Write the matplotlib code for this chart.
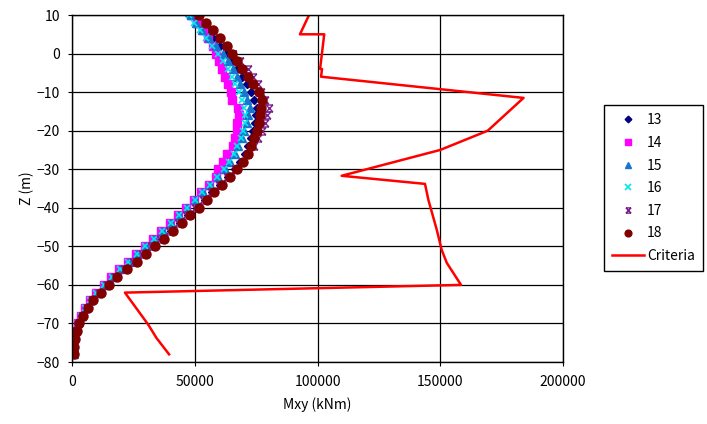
import matplotlib
matplotlib.use("Agg")
import matplotlib.pyplot as plt
from matplotlib.path import Path
from matplotlib.ticker import MultipleLocator

plt.rcParams["font.family"] = ["Noto Sans CJK JP", "DejaVu Sans"]
plt.rcParams["font.size"] = 10

# depth of each output point (m)
z = [10, 8, 6, 4, 2, 0, -2, -4, -6, -8, -10, -12, -14, -16, -18, -20, -22,
     -24, -26, -28, -30, -32, -34, -36, -38, -40, -42, -44, -46, -48, -50,
     -52, -54, -56, -58, -60, -62, -64, -66, -68, -70, -72, -74, -76, -78]

# Mxy per case, in kNm
m13 = [47600, 51500, 54500, 57500, 60300, 62800, 65000, 67200, 69300, 71200,
       73000, 74200, 75200, 75000, 74600, 73800, 72900, 71800, 70300, 68500,
       66300, 63300, 60000, 57000, 53900, 50600, 47200, 43800, 40300, 36700,
       33000, 29300, 25500, 21600, 17900, 14600, 11200, 8200, 6100, 4200,
       2600, 1500, 900, 500, 500]
m14 = [48300, 51000, 53200, 55300, 57300, 58600, 59800, 61100, 62300, 63600,
       64500, 65000, 67700, 68100, 67300, 67000, 66300, 65600, 62900, 61600,
       59500, 58500, 55500, 52500, 49400, 46200, 43000, 39700, 36300, 32900,
       29400, 26100, 22600, 19100, 15800, 12700, 9700, 7200, 5200, 3600,
       2200, 1300, 700, 400, 400]
m15 = [48500, 50500, 53000, 55800, 58600, 61600, 63500, 65300, 67000, 68500,
       69800, 71200, 72400, 71800, 71100, 70100, 69100, 67700, 66300, 64300,
       62300, 59300, 56200, 53200, 50000, 46800, 43500, 40200, 36800, 33300,
       29800, 26500, 23000, 19500, 16200, 13000, 10000, 7500, 5500, 3800,
       2400, 1400, 800, 500, 500]
m16 = [47500, 49500, 52000, 54500, 57000, 59500, 61500, 63300, 65000, 66500,
       67800, 69000, 69800, 70300, 70200, 69600, 68600, 67300, 65800, 63900,
       61900, 59000, 56000, 53000, 49800, 46600, 43300, 40000, 36600, 33100,
       29600, 26300, 22800, 19300, 16000, 12800, 9800, 7300, 5300, 3600,
       2300, 1300, 700, 400, 400]
m17 = [51000, 53800, 56800, 59800, 62800, 65500, 68500, 71500, 73800, 75500,
       77000, 78500, 80000, 79400, 78600, 77500, 75800, 74000, 71800, 69300,
       66500, 63200, 59800, 56600, 53400, 50000, 46500, 43000, 39500, 35900,
       32200, 28500, 24800, 20900, 17200, 14000, 10700, 7900, 5900, 4000,
       2500, 1500, 900, 500, 500]
m18 = [51600, 54400, 57200, 60200, 62900, 65200, 67300, 69300, 71400, 73600,
       76100, 77200, 76800, 76500, 76000, 75200, 74200, 73000, 71500, 69500,
       67300, 64200, 60900, 57900, 54800, 51600, 48000, 44600, 41100, 37500,
       33800, 30000, 26200, 22100, 18300, 15000, 11500, 8500, 6400, 4400,
       2800, 1700, 1000, 600, 600]

# criteria envelope
crit_x = [96500, 92800, 102700, 101000, 101800, 101400, 184000, 169400,
          150000, 109800, 143800, 145200, 148600, 150600, 152700, 158500,
          21400, 30900, 34300, 39400]
crit_z = [10, 5, 5, -4, -4, -6, -11.5, -20, -25, -31.7, -33.8, -38, -45.7,
          -50.9, -54.3, -60, -62, -70.3, -73.8, -78]

# Excel-style star marker: an x with bars on top and bottom
star = Path([(-1, -1), (1, 1), (-1, 1), (1, -1), (-1, 1), (1, 1), (-1, -1), (1, -1)],
            [Path.MOVETO, Path.LINETO, Path.MOVETO, Path.LINETO,
             Path.MOVETO, Path.LINETO, Path.MOVETO, Path.LINETO])

fig = plt.figure(figsize=(7.07, 4.24), dpi=100)
ax = fig.add_axes([0.1025, 0.1462, 0.6935, 0.8184])

ax.plot(m13, z, ls="none", marker="D", ms=4.5, color="#000080", label="13")
ax.plot(m14, z, ls="none", marker="s", ms=5.5, color="#FF00FF", label="14")
ax.plot(m15, z, ls="none", marker="^", ms=6, color="#1874CD", label="15")
ax.plot(m16, z, ls="none", marker="x", ms=5, mew=1.2, color="#00E5EE", label="16")
ax.plot(m17, z, ls="none", marker=star, ms=5, mew=1.0, color="#7B1F8C", label="17")
ax.plot(m18, z, ls="none", marker="o", ms=6.5, color="#800000", label="18")
ax.plot(crit_x, crit_z, color="#FF0000", lw=1.8, label="Criteria")

ax.set_xlim(0, 200000)
ax.set_ylim(-80, 10)
ax.xaxis.set_major_locator(MultipleLocator(50000))
ax.yaxis.set_major_locator(MultipleLocator(10))
ax.grid(True, color="black", lw=0.9)
ax.set_axisbelow(True)
for s in ax.spines.values():
    s.set_color("black")
    s.set_linewidth(1.0)
ax.tick_params(direction="out", length=3, color="black", labelsize=10, pad=6)
ax.set_xlabel("Mxy (kNm)", labelpad=6)
ax.set_ylabel("Z (m)", labelpad=2)

leg = fig.legend(loc="upper left", bbox_to_anchor=(604 / 707, 1 - 105 / 424),
                 borderaxespad=0, frameon=True, fancybox=False,
                 edgecolor="black", framealpha=1, borderpad=0.6,
                 labelspacing=0.62, handlelength=2.3, handletextpad=0.2,
                 markerscale=0.75, fontsize=10)
leg.get_frame().set_linewidth(1.0)

fig.savefig("out.png", dpi=100)
